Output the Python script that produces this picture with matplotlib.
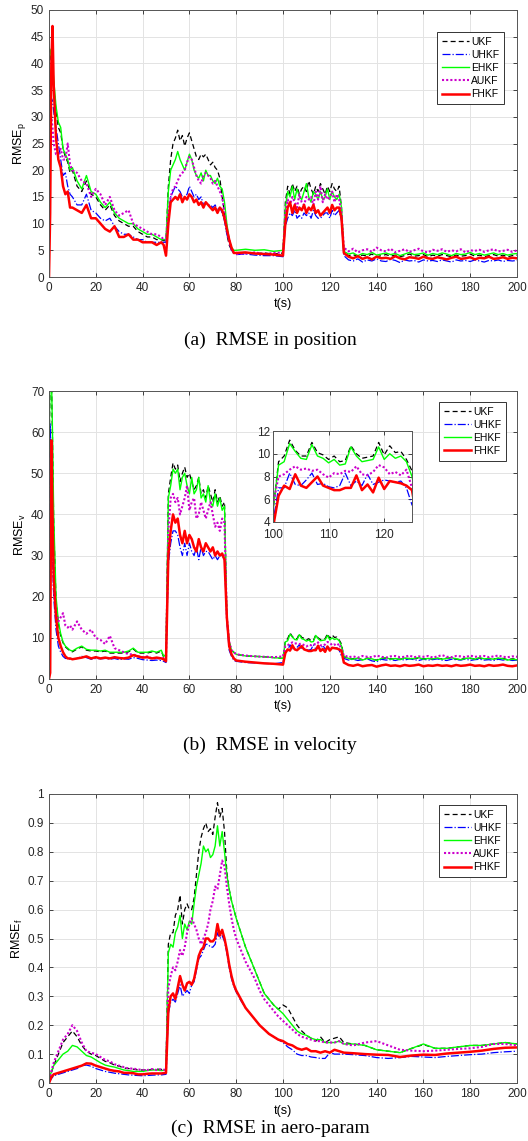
import numpy as np
import matplotlib
matplotlib.use('Agg')
import matplotlib.pyplot as plt

plt.rcParams['font.family'] = ['Liberation Sans', 'DejaVu Sans']

# time grid for position / velocity panels
t_pv = np.concatenate([[0, 0.5, 1, 1.5, 2], np.arange(3, 11), np.arange(12, 50, 2), [49, 50],
                       np.arange(51, 81), [84, 88, 92, 96, 100], np.arange(101, 126), np.arange(126, 201, 2)])

# ---- RMSE in position ----
pos_ukf = [43, 42, 40, 39, 36, 31, 28, 27, 24, 22.5, 21.5, 19.5, 20,
           17, 16, 18, 15.5, 15, 13.5, 12.5, 13.5, 11.5, 10.5, 10, 9.5, 9.5, 8.5, 8, 7.5, 7.5, 7, 7,
           6.8, 6.8,
           17, 22, 25, 26, 27.5, 25.5, 26.5, 24.5, 26, 27, 25.5, 24, 22.5, 22, 23, 22.5, 23, 22, 21, 21.5,
           20.5, 20, 18.5, 15, 12, 8, 6, 5, 4.5, 4.5,
           4.6, 4.4, 4.5, 4.3, 4.5,
           14, 17, 15.5, 17.5, 16, 17, 15.5, 16.5, 17, 16, 18, 16.5, 15.5, 17, 16, 17.5, 16.5, 15.5, 17, 16,
           17.5, 16.5, 16, 17, 13,
           4.5, 4.0, 4.2, 3.8, 4.1, 3.9, 4.3, 3.8, 4.0, 4.2, 3.9, 4.1, 3.8, 4.0, 4.3, 3.9, 4.0, 4.2, 3.8,
           4.1, 3.9, 4.2, 4.0, 3.8, 4.1, 3.9, 4.0, 4.3, 3.9, 4.1, 3.8, 4.0, 4.2, 3.9, 4.1, 3.8, 4.0, 4.1]
pos_uhkf = [34, 34, 33.5, 33, 31, 28, 25, 22, 19, 19.5, 17, 15.5, 15,
            13.5, 13.5, 15.5, 12.5, 12, 11, 10.5, 11, 9.5, 8.5, 8, 8, 7.5, 7, 7, 6.5, 6.5, 6.5, 6.5,
            6.5, 6.5,
            11, 15, 16, 17, 16.5, 16, 15, 15, 15.5, 17, 16, 15, 15.5, 14.5, 15, 13.5, 14, 13.5, 13.5, 13,
            13.5, 12.5, 13, 12, 10.5, 8, 6.5, 5, 4.5, 4.2,
            4.3, 4.1, 4.0, 4.0, 3.8,
            9.5, 11, 12, 11.5, 12.5, 11, 11.5, 11, 12, 11.5, 12, 11, 12.5, 11.5, 11, 11, 11.5, 12, 12, 11,
            12.5, 11.5, 12, 12.5, 10.5,
            4.0, 3.2, 3.0, 3.4, 2.8, 3.2, 3.0, 3.4, 3.0, 2.9, 3.3, 3.1, 2.7, 3.2, 3.0, 3.1, 2.8, 3.2, 3.0,
            3.1, 2.9, 3.2, 3.0, 2.8, 3.2, 3.0, 3.1, 2.9, 3.2, 3.0, 2.8, 3.1, 3.0, 3.2, 2.9, 3.1, 3.0, 3.1]
pos_ehkf = [43, 42.5, 41, 40, 37, 32, 29, 28, 24, 23, 22, 20, 20.5,
            18, 16.5, 19, 16, 15.5, 14, 13, 14, 12, 11, 10.5, 10, 10, 9, 8.5, 8, 8, 7.5, 7,
            7, 7,
            16, 20, 21, 22, 23.5, 22, 21, 20, 21.5, 23, 22, 20, 19, 18.5, 19.5, 18, 20, 19, 19, 18,
            17.5, 18.5, 17, 16.5, 14, 10, 7, 5.5, 5, 5,
            5.2, 5.0, 5.1, 4.8, 5.0,
            13, 16, 15, 17, 14.5, 16.5, 15, 14.5, 16, 17.5, 15, 14, 16, 15.5, 14.5, 16, 14.5, 15, 16.5, 14.5,
            16, 15, 14.5, 15.5, 13,
            4.8, 4.3, 4.5, 4.0, 4.4, 4.2, 4.6, 4.1, 4.3, 4.5, 4.2, 4.4, 4.0, 4.3, 4.6, 4.2, 4.3, 4.5, 4.1,
            4.4, 4.2, 4.5, 4.3, 4.0, 4.4, 4.2, 4.3, 4.6, 4.2, 4.4, 4.1, 4.3, 4.5, 4.2, 4.4, 4.1, 4.3, 4.4]
pos_aukf = [30, 30.5, 30, 28, 25, 23, 23, 24, 22, 22, 25, 21, 20,
            19.5, 18, 17.5, 15, 16.5, 15.5, 13.5, 15, 12.5, 11.5, 12, 12.5, 10, 9.5, 9, 8.5, 8, 8, 7.5,
            7, 7,
            12, 15, 16.5, 17, 18, 19, 19.5, 20, 21.5, 22.5, 22, 20.5, 19, 18, 17.5, 19, 19.5, 19, 18.5, 17.5,
            18, 17, 16, 15, 12, 9, 7, 5, 4.5, 4.3,
            4.4, 4.6, 4.3, 4.5, 4.6,
            12, 14.5, 13.5, 15, 14, 13, 15.5, 14, 13.5, 15, 14.5, 15, 13.5, 16, 14.5, 17, 14, 15.5, 14.5, 15,
            16, 14, 15.5, 14.5, 12,
            5.5, 4.8, 5.3, 4.6, 5.0, 5.2, 4.7, 5.5, 5.0, 4.8, 5.3, 4.6, 4.9, 5.2, 4.7, 5.0, 5.3, 4.8, 4.6,
            5.1, 4.9, 5.2, 4.7, 5.0, 4.8, 5.2, 4.6, 5.0, 4.9, 5.1, 4.7, 5.0, 5.2, 4.8, 4.9, 5.1, 4.7, 5.0]
pos_fhkf = [0, 12, 40, 47, 36, 26, 22, 20.5, 17, 15.5, 16, 13, 13,
            12.5, 12, 13.5, 11, 11, 10, 9, 8.5, 9.5, 7.5, 7.5, 8, 7, 7, 6.5, 6.5, 6.5, 6, 6.5,
            6, 4,
            10, 14, 14.5, 15, 14.5, 15.5, 14, 15, 14.5, 15.5, 15, 14, 14.5, 13.5, 14, 13, 14, 13.5, 13, 12.5,
            13, 12, 13, 12.5, 11, 9, 7, 5.5, 4.5, 4.5,
            4.6, 4.4, 4.3, 4.2, 4.0,
            10, 13, 14, 12, 13.5, 12, 13, 12.5, 13.5, 12, 13, 12.5, 13.5, 12, 12.5, 11.5, 12, 12.5, 13, 12,
            13.5, 12.5, 13, 13, 11,
            4.5, 3.8, 3.5, 3.9, 3.4, 3.7, 3.3, 3.8, 3.5, 3.6, 3.4, 3.9, 3.5, 3.3, 3.7, 3.6, 3.4, 3.8, 3.5,
            3.4, 3.7, 3.5, 3.3, 3.6, 3.8, 3.4, 3.5, 3.7, 3.3, 3.6, 3.5, 3.8, 3.4, 3.5, 3.7, 3.4, 3.6, 3.5]

# ---- RMSE in velocity ----
vel_ukf = [50, 75, 75, 58, 38, 19, 13.5, 10.5, 8.8, 7.8, 7.3, 6.8, 6.6,
           7.3, 7.8, 7, 6.8, 6.8, 6.6, 6.8, 6.3, 6.3, 6.3, 6.3, 6.6, 7.3, 6.3, 6.3, 6.3, 6.6, 6.3, 6.8,
           5.3, 5.8,
           45, 49, 52.5, 51, 52, 48, 50, 51.5, 49, 50, 48, 46, 47, 49, 45, 46, 44, 47, 45, 43,
           46, 43, 44.5, 42, 43, 15, 9, 7, 6.5, 6,
           5.6, 5.5, 5.4, 5.2, 5.0,
           9.3, 9.8, 11.2, 10.3, 9.8, 9.8, 11.0, 10.1, 9.9, 9.5, 9.8, 9.3, 9.4, 10.7, 10.0, 9.6, 9.7, 9.8,
           11.0, 9.9, 10.7, 10.1, 10.2, 9.5, 8.5,
           5.4, 4.9, 4.9, 5.0, 4.7, 5.1, 4.8, 4.6, 5.0, 5.1, 4.9, 4.9, 4.8, 5.0, 5.0, 4.9, 5.1, 4.9, 5.0,
           4.8, 5.0, 4.9, 5.1, 5.1, 4.8, 4.8, 5.0, 5.0, 4.9, 5.1, 4.8, 5.0, 4.9, 5.0, 5.0, 4.7, 4.9, 4.8]
vel_uhkf = [15, 62, 50, 30, 20, 12, 8, 6.5, 5.5, 5, 5, 4.8, 4.8,
            5, 5.5, 5.2, 4.8, 5, 4.9, 5, 4.8, 5, 4.7, 4.9, 4.8, 5.2, 5, 4.7, 4.6, 4.5, 4.6, 4.5,
            4.3, 4.0,
            28, 33, 36, 36, 35, 32, 30, 33, 30, 33, 31, 30, 32, 29, 32, 30, 31, 31, 30, 29,
            30, 29, 30, 30, 29, 14, 7, 5.5, 4.5, 4.3,
            4.0, 3.9, 3.8, 3.7, 4.0,
            7.0, 7.0, 8.3, 7.3, 7.2, 7.7, 8.3, 7.3, 7.4, 7.1, 7.0, 7.2, 8.3, 7.2, 7.6, 7.2, 8.2, 7.3, 7.5,
            7.7, 7.6, 7.5, 7.6, 7.0, 5.5,
            5.0, 4.6, 4.8, 4.5, 4.7, 4.9, 4.4, 4.2, 4.8, 4.6, 4.7, 4.5, 4.8, 4.6, 4.9, 4.7, 4.5, 4.8, 4.6,
            4.7, 4.9, 4.6, 4.5, 4.8, 4.7, 4.6, 4.9, 4.5, 4.7, 4.8, 4.6, 4.7, 4.5, 4.8, 4.6, 4.7, 4.5, 4.6]
vel_ehkf = [55, 75, 75, 60, 40, 20, 14, 11, 9, 8, 7.5, 7, 6.8,
            7.5, 8, 7.2, 7, 7, 6.8, 7, 6.5, 6.5, 6.5, 6.5, 6.8, 7.5, 6.5, 6.5, 6.5, 6.8, 6.5, 7,
            5.5, 6,
            44, 47, 51, 50, 51, 46, 49, 50, 47, 45, 49, 45, 46, 49, 44, 45, 43, 47, 43, 42,
            45, 42, 44, 41, 42, 15, 9, 7, 6.5, 6,
            5.6, 5.5, 5.4, 5.2, 5.0,
            9.0, 9.3, 10.9, 10.2, 9.6, 9.5, 10.8, 9.8, 9.6, 9.2, 9.5, 9.0, 9.1, 10.6, 9.8, 9.3, 9.4, 9.5,
            10.6, 9.5, 10.0, 9.6, 9.8, 9.3, 8.0,
            5.5, 5.0, 4.8, 5.1, 4.6, 5.0, 4.9, 4.5, 5.0, 5.2, 4.8, 5.0, 4.7, 5.1, 4.9, 5.0, 5.2, 4.8, 5.0,
            4.9, 5.1, 4.8, 5.0, 5.2, 4.9, 4.7, 5.0, 5.1, 4.8, 5.2, 4.9, 5.0, 4.8, 5.1, 4.9, 4.6, 4.8, 4.7]
vel_aukf = [8, 30, 50, 35, 22, 16, 14, 15, 16, 13, 12.5, 13, 12,
            14, 12, 11, 12, 10, 9.5, 8.5, 10.5, 7.5, 7, 6.5, 6, 6, 5.5, 5.3, 5.5, 5, 5, 5,
            5, 4.5,
            36, 44, 45, 43, 44, 40, 42, 44, 47, 41, 43, 44, 39, 40, 43, 41, 39, 41, 43, 40,
            37, 38, 36, 39, 38, 15, 9, 7, 6.5, 6,
            5.7, 5.5, 5.4, 5.3, 5.5,
            8.0, 8.2, 8.6, 8.9, 8.6, 8.7, 8.5, 8.6, 8.2, 7.9, 8.3, 8.2, 8.5, 8.4, 8.9, 8.2, 8.1, 8.4, 9.0,
            8.8, 8.2, 8.4, 8.1, 8.6, 7.0,
            5.8, 5.3, 5.5, 5.2, 5.6, 5.4, 5.3, 5.7, 5.4, 5.2, 5.5, 5.6, 5.3, 5.4, 5.7, 5.3, 5.5, 5.4, 5.6,
            5.2, 5.5, 5.8, 5.4, 5.3, 5.6, 5.5, 5.3, 5.7, 5.4, 5.5, 5.6, 5.3, 5.5, 5.7, 5.4, 5.3, 5.5, 5.4]
vel_fhkf = [0, 1.5, 58, 40, 25, 15, 10, 8, 6.5, 5.5, 5, 5, 4.8,
            5, 5.2, 5.5, 5, 5.3, 5, 5.2, 5, 5.3, 5.1, 5, 5.2, 5.8, 5.5, 5.2, 5.3, 5, 5.2, 5,
            4.8, 4.3,
            30, 36, 40, 38, 39, 35, 33, 36, 33, 35, 34, 32, 31, 34, 32, 31, 33, 32, 31, 32,
            30, 31, 30, 30.5, 29, 15, 8, 6, 5, 4.5,
            4.2, 4.0, 3.8, 3.7, 3.5,
            6.3, 7.2, 6.9, 8.2, 7.2, 7.0, 7.5, 8.0, 7.2, 7.0, 6.8, 6.8, 7.0, 7.0, 8.1, 6.8, 7.3, 6.6, 7.9,
            6.9, 7.6, 7.5, 7.4, 7.2, 6.8,
            4.0, 3.4, 3.2, 3.5, 3.1, 3.3, 3.4, 3.0, 3.3, 3.5, 3.2, 3.3, 3.1, 3.4, 3.2, 3.3, 3.5, 3.1, 3.3,
            3.2, 3.4, 3.2, 3.3, 3.1, 3.4, 3.2, 3.3, 3.5, 3.2, 3.3, 3.1, 3.4, 3.2, 3.3, 3.5, 3.2, 3.1, 3.3]

# ---- RMSE in aero-param ----
t_f = np.concatenate([[0, 1], np.arange(2, 51, 2), np.arange(51, 81), np.arange(82, 127, 2), np.arange(130, 201, 5)])
f_ukf = [0.01, 0.035,
         0.06, 0.1, 0.14, 0.16, 0.18, 0.16, 0.13, 0.11, 0.1, 0.095, 0.085, 0.075, 0.07, 0.062, 0.058, 0.052,
         0.05, 0.048, 0.045, 0.045, 0.045, 0.047, 0.048, 0.047, 0.05,
         0.48, 0.52, 0.52, 0.58, 0.6, 0.65, 0.55, 0.6, 0.62, 0.6, 0.6, 0.64, 0.72, 0.8, 0.85, 0.88, 0.9, 0.87,
         0.88, 0.86, 0.92, 0.97, 0.92, 0.95, 0.87, 0.73, 0.67, 0.63, 0.6, 0.57,
         0.52, 0.47, 0.43, 0.39, 0.35, 0.31, 0.29, 0.27, 0.255, 0.27, 0.26, 0.23, 0.2, 0.18, 0.165, 0.155,
         0.145, 0.16, 0.14, 0.15, 0.155, 0.16, 0.14,
         0.135, 0.13, 0.115, 0.11, 0.105, 0.12, 0.133, 0.12, 0.12, 0.125, 0.13, 0.13, 0.135, 0.14, 0.135]
f_uhkf = [0.0, 0.015,
          0.025, 0.03, 0.035, 0.04, 0.045, 0.05, 0.06, 0.062, 0.058, 0.05, 0.045, 0.04, 0.037, 0.034, 0.032,
          0.03, 0.028, 0.027, 0.026, 0.025, 0.026, 0.027, 0.028, 0.028, 0.03,
          0.24, 0.28, 0.29, 0.28, 0.31, 0.34, 0.3, 0.31, 0.32, 0.31, 0.34, 0.35, 0.39, 0.43, 0.44, 0.46, 0.48,
          0.48, 0.47, 0.47, 0.48, 0.52, 0.5, 0.51, 0.49, 0.45, 0.4, 0.36, 0.335, 0.315,
          0.285, 0.26, 0.24, 0.22, 0.2, 0.185, 0.17, 0.16, 0.15, 0.14, 0.125, 0.115, 0.1, 0.095, 0.095, 0.09,
          0.088, 0.085, 0.085, 0.105, 0.1, 0.1, 0.1,
          0.098, 0.095, 0.088, 0.085, 0.088, 0.092, 0.09, 0.088, 0.092, 0.095, 0.098, 0.1, 0.105, 0.108, 0.11]
f_ehkf = [0.01, 0.04,
          0.06, 0.08, 0.1, 0.11, 0.13, 0.125, 0.11, 0.095, 0.09, 0.08, 0.07, 0.062, 0.058, 0.055, 0.05,
          0.045, 0.043, 0.04, 0.04, 0.04, 0.043, 0.045, 0.045, 0.043, 0.045,
          0.45, 0.48, 0.47, 0.52, 0.54, 0.58, 0.5, 0.55, 0.53, 0.56, 0.55, 0.62, 0.68, 0.72, 0.76, 0.82, 0.8,
          0.81, 0.78, 0.79, 0.82, 0.89, 0.82, 0.87, 0.8, 0.72, 0.67, 0.63, 0.6, 0.57,
          0.52, 0.47, 0.43, 0.39, 0.35, 0.31, 0.29, 0.27, 0.255, 0.24, 0.22, 0.2, 0.18, 0.17, 0.165, 0.155,
          0.15, 0.15, 0.14, 0.14, 0.14, 0.145, 0.135,
          0.135, 0.13, 0.115, 0.11, 0.105, 0.12, 0.135, 0.12, 0.12, 0.125, 0.13, 0.13, 0.135, 0.14, 0.135]
f_aukf = [0.01, 0.04,
          0.07, 0.11, 0.15, 0.17, 0.2, 0.18, 0.14, 0.11, 0.105, 0.1, 0.09, 0.08, 0.075, 0.065, 0.06, 0.055,
          0.05, 0.05, 0.047, 0.045, 0.045, 0.048, 0.045, 0.047, 0.045,
          0.33, 0.37, 0.4, 0.39, 0.42, 0.46, 0.44, 0.47, 0.52, 0.55, 0.57, 0.55, 0.53, 0.5, 0.48, 0.5, 0.52,
          0.55, 0.6, 0.63, 0.68, 0.67, 0.72, 0.77, 0.75, 0.68, 0.62, 0.57, 0.53, 0.5,
          0.46, 0.42, 0.39, 0.36, 0.32, 0.29, 0.27, 0.25, 0.23, 0.215, 0.2, 0.185, 0.17, 0.16, 0.155, 0.15,
          0.145, 0.145, 0.14, 0.14, 0.14, 0.145, 0.135,
          0.13, 0.14, 0.145, 0.13, 0.115, 0.112, 0.11, 0.112, 0.115, 0.118, 0.12, 0.125, 0.135, 0.135, 0.13]
f_fhkf = [0.0, 0.02,
          0.03, 0.035, 0.04, 0.045, 0.05, 0.055, 0.06, 0.068, 0.067, 0.06, 0.055, 0.05, 0.045, 0.042, 0.04,
          0.035, 0.035, 0.034, 0.03, 0.03, 0.032, 0.033, 0.033, 0.033, 0.035,
          0.25, 0.3, 0.31, 0.29, 0.33, 0.37, 0.34, 0.32, 0.345, 0.35, 0.34, 0.36, 0.4, 0.44, 0.46, 0.47, 0.5,
          0.5, 0.49, 0.49, 0.5, 0.55, 0.51, 0.53, 0.5, 0.46, 0.41, 0.37, 0.34, 0.32,
          0.29, 0.26, 0.24, 0.22, 0.2, 0.185, 0.17, 0.16, 0.15, 0.145, 0.135, 0.13, 0.12, 0.115, 0.12, 0.11,
          0.11, 0.105, 0.11, 0.105, 0.115, 0.11, 0.105,
          0.103, 0.1, 0.098, 0.097, 0.09, 0.095, 0.098, 0.097, 0.102, 0.105, 0.108, 0.112, 0.118, 0.122, 0.123]

names = ['UKF', 'UHKF', 'EHKF', 'AUKF', 'FHKF']
styles = [dict(color='k', ls=(0, (4, 2.5)), lw=0.9),
          dict(color='#0000ff', ls='-.', lw=0.9),
          dict(color='#00ff00', ls='-', lw=1.0),
          dict(color='#cc00cc', ls=(0, (1, 1)), lw=1.5),
          dict(color='#ff0000', ls='-', lw=1.8)]


def style_axes(ax, ylim, yticks, xlim=(0, 200), xticks=range(0, 201, 20), fs=8.5):
    ax.set_xlim(xlim)
    ax.set_ylim(ylim)
    ax.set_xticks(list(xticks))
    ax.set_yticks(yticks)
    ax.grid(True, color='#e3e3e3', lw=0.7)
    ax.set_axisbelow(True)
    ax.tick_params(direction='in', top=True, right=True, labelsize=fs, length=3, width=0.6,
                   colors='#262626')
    for sp in ax.spines.values():
        sp.set_color('#555555')
        sp.set_linewidth(0.7)


fig = plt.figure(figsize=(5.28, 11.41), dpi=100)
W, H = 528, 1141


def px_axes(x0, y0, x1, y1):
    return fig.add_axes([x0 / W, 1 - y1 / H, (x1 - x0) / W, (y1 - y0) / H])


def legend_at(ax, handles, labels, x1, y0):
    leg = ax.legend(handles, labels, loc='upper right', bbox_to_anchor=(x1 / W, 1 - y0 / H),
                    bbox_transform=fig.transFigure, fontsize=7.5, handlelength=2.6,
                    handletextpad=0.2, borderpad=0.45, labelspacing=0.3, fancybox=False,
                    framealpha=1, borderaxespad=0)
    leg.get_frame().set_edgecolor('#333333')
    leg.get_frame().set_linewidth(0.7)


cap_font = dict(ha='center', va='center', fontsize=14, family='Liberation Serif')

# (a) position
ax1 = px_axes(49, 10, 517, 277)
hs = []
for y, n, s in zip([pos_ukf, pos_uhkf, pos_ehkf, pos_aukf, pos_fhkf], names, styles):
    h, = ax1.plot(t_pv, y, label=n, **s)
    hs.append(h)
style_axes(ax1, (0, 50), range(0, 51, 5))
ax1.set_ylabel(r'RMSE$_\mathregular{p}$', fontsize=9, labelpad=2)
ax1.set_xlabel('t(s)', fontsize=9, labelpad=3)
legend_at(ax1, hs, names, 504, 32)
fig.text(0.512, 1 - 340 / H, '(a)  RMSE in position', **cap_font)

# (b) velocity
ax2 = px_axes(49, 391, 517, 679)
hs = []
for y, n, s in zip([vel_ukf, vel_uhkf, vel_ehkf, vel_aukf, vel_fhkf], names, styles):
    h, = ax2.plot(t_pv, y, **s)
    hs.append(h)
style_axes(ax2, (0, 70), range(0, 71, 10))
ax2.set_ylabel(r'RMSE$_\mathregular{v}$', fontsize=9, labelpad=2)
ax2.set_xlabel('t(s)', fontsize=9, labelpad=3)
legend_at(ax2, [hs[0], hs[1], hs[2], hs[4]], ['UKF', 'UHKF', 'EHKF', 'FHKF'], 506, 402)

axin = px_axes(273, 431, 412, 522)
for y, s in zip([vel_ukf, vel_uhkf, vel_ehkf, vel_aukf, vel_fhkf], styles):
    axin.plot(t_pv, y, **s)
style_axes(axin, (4, 12), [4, 6, 8, 10, 12], xlim=(100, 125), xticks=[100, 110, 120], fs=8.5)
axin.tick_params(axis='y', pad=2)
axin.tick_params(axis='x', pad=5)
fig.text(0.512, 1 - 745 / H, '(b)  RMSE in velocity', **cap_font)

# (c) aero-param
ax3 = px_axes(49, 794, 517, 1083)
hs = []
for y, n, s in zip([f_ukf, f_uhkf, f_ehkf, f_aukf, f_fhkf], names, styles):
    h, = ax3.plot(t_f, y, **s)
    hs.append(h)
style_axes(ax3, (0, 1), np.round(np.arange(0, 1.01, 0.1), 1))
ax3.set_yticklabels(['0', '0.1', '0.2', '0.3', '0.4', '0.5', '0.6', '0.7', '0.8', '0.9', '1'])
ax3.set_ylabel(r'RMSE$_\mathregular{f}$', fontsize=9, labelpad=2)
ax3.set_xlabel('t(s)', fontsize=9, labelpad=4)
legend_at(ax3, hs, names, 506, 805)
fig.text(0.512, 1 - 1128 / H, '(c)  RMSE in aero-param', **cap_font)

fig.savefig('out.png', dpi=100)
